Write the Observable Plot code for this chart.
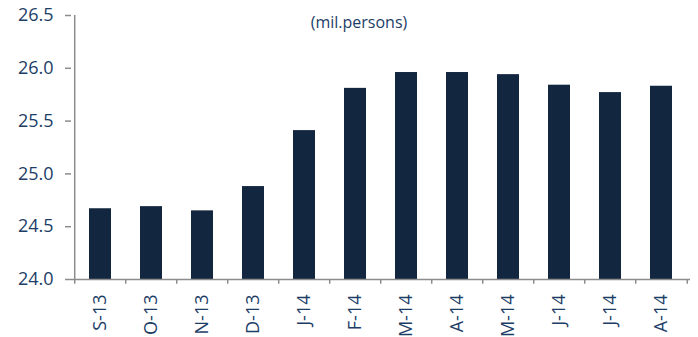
<!DOCTYPE html>
<html>
<head>
<meta charset="utf-8">
<script src="https://cdn.jsdelivr.net/npm/d3@7"></script>
<script src="https://cdn.jsdelivr.net/npm/@observablehq/plot@0.6"></script>
<style>
  html, body { margin: 0; padding: 0; background: #fff; }
  #chart svg { display: block; }
</style>
</head>
<body>
<div id="chart"></div>
<script>
const categories = ["S-13","O-13","N-13","D-13","J-14","F-14","M-14","A-14","M-14 ","J-14 ","J-14  ","A-14 "];
const values = [24.67, 24.69, 24.65, 24.88, 25.41, 25.81, 25.96, 25.96, 25.94, 25.84, 25.77, 25.83];
const yTicks = [24.0, 24.5, 25.0, 25.5, 26.0, 26.5];
const subtitle = "(mil.persons)";

const data = categories.map((c, i) => ({cat: c, value: values[i]}));

const W = 698, H = 337;
const mL = 71, mR = 8, mT = 15, mB = 58;
const bw = (W - mL - mR) / categories.length;
const textColor = "#1c3d66";
const axisColor = "#8c8c8c";
const barColor = "#12263f";

const chart = Plot.plot({
  width: W,
  height: H,
  marginLeft: mL,
  marginRight: mR,
  marginTop: mT,
  marginBottom: mB,
  style: {fontFamily: "'Open Sans', sans-serif", fontSize: "18px", color: textColor, background: "#fff"},
  x: {domain: categories, paddingInner: 0.57, paddingOuter: 0.285, label: null},
  y: {domain: [24, 26.5], label: null},
  marks: [
    Plot.barY(data, {x: "cat", y1: 24, y2: "value", fill: barColor}),
    // y axis line
    Plot.ruleX([0], {x: () => categories[0], dx: -bw / 2, y1: 24, y2: 26.5, stroke: axisColor, strokeWidth: 1.5}),
    // x axis line
    Plot.ruleY([24], {stroke: axisColor, strokeWidth: 1.5}),
    // x ticks at band boundaries
    Plot.ruleX(categories, {x: d => d, dx: -bw / 2, y1: 24, y2: 23.955, stroke: axisColor, strokeWidth: 1.5}),
    Plot.ruleX([categories[categories.length - 1]], {x: d => d, dx: bw / 2, y1: 24, y2: 23.955, stroke: axisColor, strokeWidth: 1.5}),
    Plot.axisY({ticks: yTicks, tickFormat: d3.format(".1f"), tickSize: 6, tickPadding: 12, stroke: axisColor, strokeWidth: 1.5, fill: textColor, fontSize: 18, label: null}),
    Plot.axisX({tickSize: 0, tickPadding: 15, tickRotate: -90, fill: textColor, fontSize: 18, tickFormat: d => d.trim(), label: null}),
    Plot.text([subtitle], {frameAnchor: "top", text: d => d, dx: -22, dy: 1, fill: textColor, fontSize: 16})
  ]
});

document.getElementById("chart").appendChild(chart);
</script>
</body>
</html>
